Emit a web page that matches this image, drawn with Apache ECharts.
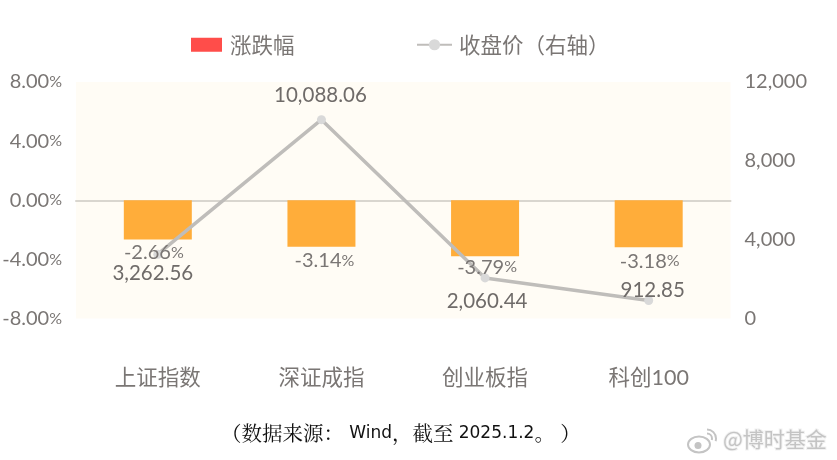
<!DOCTYPE html>
<html><head><meta charset="utf-8">
<style>html,body{margin:0;padding:0;background:#fff}#c{width:837px;height:460px}</style>
<script src="https://cdn.jsdelivr.net/npm/echarts@6/dist/echarts.min.js"></script>
</head><body><div id="c"></div>
<script>
const categories = ['上证指数','深证成指','创业板指','科创100'];
const changePct = [-2.66,-3.14,-3.79,-3.18];
const closePrice = [3262.56,10088.06,2060.44,912.85];
const lineLabelPos = ['bottom','top','bottom','top'];
const lineLabelOffset = [[-5,1],[-1,0],[2,-1],[4,5]];
const barLabelOffset = [[-4,1],[3,2],[2,-1],[1,2]];
const leftTicks = {min:-8,max:8,interval:4};
const rightTicks = {min:0,max:12000,interval:4000};
const FONT = 'Lato, "Noto Sans CJK SC", sans-serif';
const CJK = '"Noto Sans CJK SC", sans-serif';
const GRAY = '#7a7674';
const pctRich = {a:{fontFamily:FONT,fontSize:20,color:GRAY},b:{fontFamily:FONT,fontSize:16,color:GRAY}};
const WM = '#c4c4c4';
const chart = echarts.init(document.getElementById('c'),null,{renderer:'canvas'});
chart.setOption({
  animation:false,
  backgroundColor:'#fff',
  legend:[
    {top:29,left:186,itemGap:0,itemWidth:31,itemHeight:14,textStyle:{fontFamily:CJK,fontSize:21.5,color:GRAY,padding:[0,0,0,3]},data:[{name:'涨跌幅',icon:'rect'}]},
    {top:29,left:411,itemGap:0,itemWidth:35,itemHeight:14,textStyle:{fontFamily:CJK,fontSize:21.5,color:GRAY,padding:[0,0,0,2]},data:[{name:'收盘价（右轴）'}]}
  ],
  grid:{left:76,right:106.5,top:82,bottom:141.5,outerBoundsMode:'none',show:true,backgroundColor:'#FFFCF5',borderWidth:0},
  xAxis:[
    {type:'category',data:categories,axisTick:{show:false},axisLabel:{show:false},
     axisLine:{onZero:true,lineStyle:{color:'#d9d6cf',width:2}}},
    {type:'category',data:categories,position:'bottom',axisTick:{show:false},axisLine:{show:false,onZero:false},
     axisLabel:{margin:49,fontFamily:FONT,fontSize:21.5,color:GRAY}}
  ],
  yAxis:[
    {type:'value',min:leftTicks.min,max:leftTicks.max,interval:leftTicks.interval,splitLine:{show:false},
     axisLine:{show:false},axisTick:{show:false},
     axisLabel:{margin:14,formatter:v=>`{a|${v.toFixed(2)}}{b|%}`,rich:pctRich}},
    {type:'value',position:'right',min:rightTicks.min,max:rightTicks.max,interval:rightTicks.interval,splitLine:{show:false},
     axisLine:{show:false},axisTick:{show:false},
     axisLabel:{margin:14,fontFamily:FONT,fontSize:20,color:GRAY,formatter:v=>v.toLocaleString('en-US')}}
  ],
  series:[
    {name:'涨跌幅',type:'bar',xAxisIndex:0,yAxisIndex:0,barWidth:68,barGap:'-100%',z:2,
     itemStyle:{color:'#FF4D4A'},
     data:changePct.map(v=>({value:v,itemStyle:{color:'#FFAD3A'}}))},
    {name:'收盘价（右轴）',type:'line',xAxisIndex:0,yAxisIndex:1,z:3,symbol:'circle',symbolSize:9,
     lineStyle:{color:'#BFBDBA',width:3.5},itemStyle:{color:'#D9D9D9'},
     data:closePrice.map((v,i)=>({value:v,label:{position:lineLabelPos[i],distance:i===0?3:(i===3?0:10),offset:lineLabelOffset[i]}})),
     label:{show:true,fontFamily:FONT,fontSize:20.5,color:'#6f6b69',
       formatter:p=>p.value.toLocaleString('en-US',{minimumFractionDigits:2,maximumFractionDigits:2})}},
    {name:'涨跌幅标签',type:'bar',xAxisIndex:0,yAxisIndex:0,barWidth:68,barGap:'-100%',z:4,
     itemStyle:{color:'transparent'},
     data:changePct.map((v,i)=>({value:v,label:{offset:barLabelOffset[i]}})),
     label:{show:true,position:'bottom',distance:2,formatter:p=>`{a|${p.value.toFixed(2)}}{b|%}`,rich:pctRich}}
  ],
  graphic:[
    {type:'text',left:221,top:423,style:{
      text:'（数据来源： {l|Wind}，截至 {l|2025.1.2}。 ）',
      fontFamily:'"Noto Serif CJK SC",serif',fontSize:20.5,fill:'#111',
      rich:{l:{fontFamily:'"DejaVu Sans",sans-serif',fontSize:17,fill:'#111',color:'#111'}}}},
    {type:'text',left:722,top:428,style:{text:'@博时基金',fontFamily:CJK,fontSize:21,fill:WM,stroke:'#f2f2f2',lineWidth:2}},
    {type:'group',left:687,top:427,children:[
      {type:'ellipse',shape:{cx:12,cy:16,rx:11,ry:8},style:{fill:'#fff',stroke:WM,lineWidth:2}},
      {type:'circle',shape:{cx:11,cy:17,r:3.5},style:{fill:WM}},
      {type:'arc',shape:{cx:20,cy:10,r:5,startAngle:-Math.PI/2,endAngle:0.3},style:{fill:'none',stroke:WM,lineWidth:2}},
      {type:'arc',shape:{cx:20,cy:10,r:9,startAngle:-Math.PI/2,endAngle:0.3},style:{fill:'none',stroke:WM,lineWidth:2}}
    ]}
  ]
});
</script></body></html>
